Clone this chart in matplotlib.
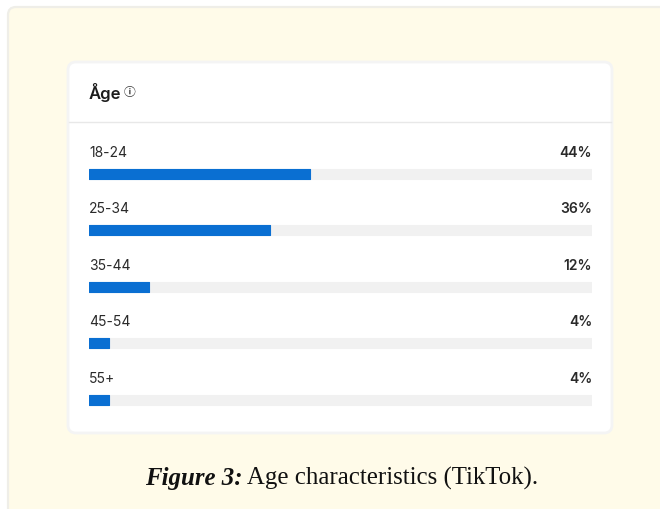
import matplotlib
matplotlib.use('Agg')
import matplotlib.pyplot as plt
from matplotlib.patches import FancyBboxPatch

ages = ['18-24', '25-34', '35-44', '45-54', '55+']
shares = [44, 36, 12, 4, 4]
share_labels = ['44%', '36%', '12%', '4%', '4%']
title = 'Åge'
caption_bold = 'Figure 3:'
caption_rest = ' Age characteristics (TikTok).'

W, H = 660, 510
fig = plt.figure(figsize=(W / 100, H / 100), dpi=100, facecolor='white')

# background layer in pixel coords
bg = fig.add_axes([0, 0, 1, 1])
bg.set_xlim(0, W)
bg.set_ylim(H, 0)
bg.axis('off')

def box(x0, y0, x1, y1, r, fc, ec, lw):
    bg.add_patch(FancyBboxPatch((x0 + r, y0 + r), x1 - x0 - 2 * r, y1 - y0 - 2 * r,
                                boxstyle='round,pad=%g' % r, fc=fc, ec=ec, lw=lw))

box(8, 8, 680, 530, 8, '#fffbe9', '#efeee8', 1.6)
box(68, 63, 612, 434, 8, 'white', '#f4f4f4', 2)
bg.plot([69, 611], [123, 123], color='#e8e8e8', lw=1)

bg.text(89, 92, title, fontsize=12, family='Inter', weight='semibold', color='#1c1c1c', va='center')
bg.text(129.5, 92.5, '\u24d8', fontsize=8.5, family=['Noto Sans CJK SC', 'DejaVu Sans'],
        weight='bold', color='#333333', ha='center', va='center')

t = bg.text(145, 479, caption_bold, fontsize=17.9, family='Liberation Serif', style='italic',
            weight='bold', color='#111111', va='center')
bg.annotate(caption_rest, xy=(1, 0), xycoords=t, va='bottom', fontsize=17.9,
            family='Liberation Serif', color='#111111')

# bars
ax = fig.add_axes([89 / W, 1 - 429 / H, 503 / W, (429 - 146.5) / H])
ax.patch.set_alpha(0)
pos = list(range(len(ages)))
ax.barh(pos, [100] * len(ages), height=0.18, color='#f1f1f1', edgecolor='#f1f1f1', lw=0.8, joinstyle='round')
ax.barh(pos, shares, height=0.18, color='#0a6fd2', edgecolor='#0a6fd2', lw=0.8, joinstyle='round')
ax.set_xlim(0, 100)
ax.set_ylim(4.5, -0.5)
ax.axis('off')

for p, age, lab in zip(pos, ages, share_labels):
    ax.annotate(age, (0, p), xytext=(0, 16), textcoords='offset points', fontsize=10,
                family='Inter', color='#2a2a2a', ha='left', va='center')
    ax.annotate(lab, (100, p), xytext=(0, 16), textcoords='offset points', fontsize=10,
                family='Inter', weight='semibold', color='#2a2a2a', ha='right', va='center')

fig.savefig('out.png', dpi=100)
